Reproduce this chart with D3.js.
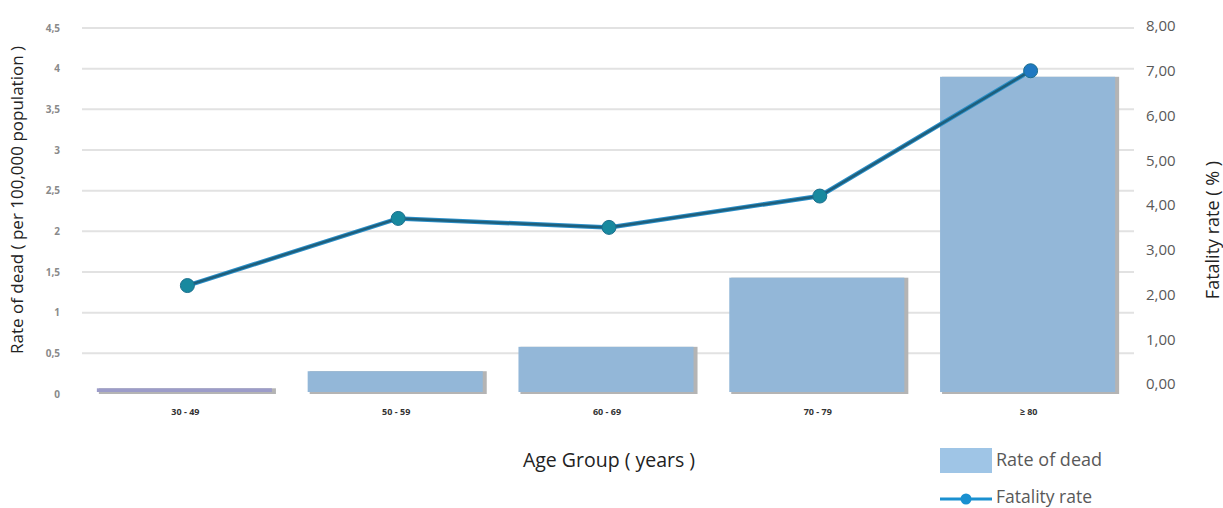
<!DOCTYPE html>
<html>
<head>
<meta charset="utf-8">
<script src="https://cdn.jsdelivr.net/npm/d3@7"></script>
<style>
  html, body { margin: 0; padding: 0; background: #fff; }
  svg { display: block; font-family: "Open Sans", "Noto Sans", sans-serif; }
</style>
</head>
<body>
<svg id="chart" width="1223" height="508"></svg>
<script>
// Age groups and the two measured series
const ageGroups = ["30 - 49", "50 - 59", "60 - 69", "70 - 79", "≥ 80"];
const rateOfDead = [0.07, 0.28, 0.58, 1.43, 3.9];      // per 100,000 population
const fatalityRate = [2.2, 3.7, 3.5, 4.2, 7.0];        // percent

const leftTicks = [0, 0.5, 1, 1.5, 2, 2.5, 3, 3.5, 4, 4.5];
const leftTickLabels = ["0", "0,5", "1", "1,5", "2", "2,5", "3", "3,5", "4", "4,5"];
const rightTicks = [0, 1, 2, 3, 4, 5, 6, 7, 8];
const rightTickLabels = ["0,00", "1,00", "2,00", "3,00", "4,00", "5,00", "6,00", "7,00", "8,00"];

const svg = d3.select("#chart");

const plotLeft = 80, plotRight = 1134;

const x = d3.scaleBand().domain(ageGroups).range([plotLeft, plotRight]).paddingInner(0.16).paddingOuter(0.08);
const yLeft = d3.scaleLinear().domain([0, 4.5]).range([394, 28]);
const yRight = d3.scaleLinear().domain([0, 8]).range([384, 26]);

// Horizontal gridlines on the left scale
svg.append("g")
  .selectAll("line")
  .data(leftTicks.slice(1))
  .join("line")
  .attr("x1", plotLeft + 2).attr("x2", plotRight)
  .attr("y1", d => yLeft(d)).attr("y2", d => yLeft(d))
  .attr("stroke", "#e2e2e2").attr("stroke-width", 2);

// Left axis (tick labels only)
const leftAxis = d3.axisLeft(yLeft)
  .tickValues(leftTicks)
  .tickFormat((d, i) => leftTickLabels[i])
  .tickSize(0).tickPadding(0);
const gl = svg.append("g").attr("transform", "translate(60,0)").call(leftAxis);
gl.select(".domain").remove();
gl.selectAll("text")
  .attr("font-size", 10).attr("font-weight", "bold").attr("fill", "#8a8a8a")
  .style("font-family", "'Open Sans', sans-serif");

// Right axis
const rightAxis = d3.axisRight(yRight)
  .tickValues(rightTicks)
  .tickFormat((d, i) => rightTickLabels[i])
  .tickSize(0).tickPadding(0);
const gr = svg.append("g").attr("transform", "translate(1146,0)").call(rightAxis);
gr.select(".domain").remove();
gr.selectAll("text")
  .attr("font-size", 15).attr("fill", "#595959")
  .style("font-family", "'Open Sans', sans-serif");

// Bars with a soft grey edge
const barG = svg.append("g");
barG.selectAll("rect.shadow")
  .data(ageGroups)
  .join("rect")
  .attr("class", "shadow")
  .attr("x", d => x(d) + 2)
  .attr("width", x.bandwidth())
  .attr("y", (d, i) => yLeft(rateOfDead[i]))
  .attr("height", (d, i) => yLeft(0) - yLeft(rateOfDead[i]))
  .attr("fill", "#b4b4b4");
barG.selectAll("rect.bar")
  .data(ageGroups)
  .join("rect")
  .attr("class", "bar")
  .attr("x", d => x(d))
  .attr("width", x.bandwidth() - 2)
  .attr("y", (d, i) => yLeft(rateOfDead[i]))
  .attr("height", (d, i) => yLeft(0) - yLeft(rateOfDead[i]) - 2)
  .attr("fill", (d, i) => i === 0 ? "#9c9cc9" : "#93b7d8");

// X axis category labels
const xAxis = d3.axisBottom(x).tickSize(0).tickPadding(0);
const gx = svg.append("g").attr("transform", "translate(0,409)").call(xAxis);
gx.select(".domain").remove();
gx.selectAll("text")
  .attr("font-size", 9).attr("font-weight", "bold").attr("fill", "#333")
  .style("font-family", "'Open Sans', sans-serif");

// Fatality rate line with markers
const cx = d => x(d) + x.bandwidth() / 2 + 2;
const line = d3.line()
  .x((d, i) => cx(ageGroups[i]))
  .y(d => yRight(d));
svg.append("path")
  .datum(fatalityRate)
  .attr("d", line)
  .attr("fill", "none")
  .attr("stroke", "#2a8fc9").attr("stroke-width", 4.5);
svg.append("path")
  .datum(fatalityRate)
  .attr("d", line)
  .attr("fill", "none")
  .attr("stroke", "#1e5f7c").attr("stroke-width", 2.5);
svg.append("g")
  .selectAll("circle")
  .data(fatalityRate)
  .join("circle")
  .attr("cx", (d, i) => cx(ageGroups[i]))
  .attr("cy", d => yRight(d))
  .attr("r", 7)
  .attr("fill", (d, i) => i === 4 ? "#1f78c1" : "#18899f")
  .attr("stroke", "#1c6f8e").attr("stroke-width", 1);

// Axis titles
svg.append("text")
  .attr("transform", "translate(23,200) rotate(-90)")
  .attr("text-anchor", "middle")
  .attr("font-size", 17).attr("fill", "#222")
  .text("Rate of dead ( per 100,000 population )");
svg.append("text")
  .attr("transform", "translate(1219,230) rotate(-90)")
  .attr("text-anchor", "middle")
  .attr("font-size", 18).attr("fill", "#222")
  .text("Fatality rate ( % )");
svg.append("text")
  .attr("x", 609).attr("y", 467)
  .attr("text-anchor", "middle")
  .attr("font-size", 19.5).attr("fill", "#222")
  .text("Age Group ( years )");

// Legend
const lg = svg.append("g");
lg.append("rect")
  .attr("x", 940).attr("y", 448).attr("width", 52).attr("height", 25)
  .attr("fill", "#9fc5e6");
lg.append("text")
  .attr("x", 996).attr("y", 466)
  .attr("font-size", 18).attr("fill", "#595959")
  .text("Rate of dead");
lg.append("line")
  .attr("x1", 940).attr("x2", 992).attr("y1", 499).attr("y2", 499)
  .attr("stroke", "#1a90d0").attr("stroke-width", 3);
lg.append("circle")
  .attr("cx", 966).attr("cy", 499).attr("r", 5.5)
  .attr("fill", "#1a90d0");
lg.append("text")
  .attr("x", 996).attr("y", 503)
  .attr("font-size", 17.5).attr("fill", "#595959")
  .text("Fatality rate");
</script>
</body>
</html>
